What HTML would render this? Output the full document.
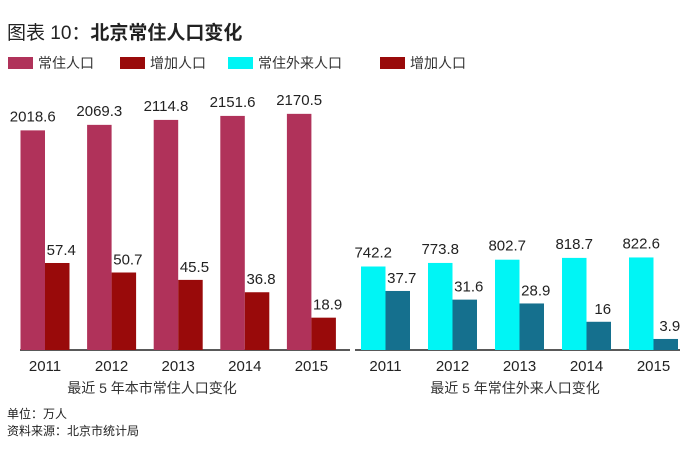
<!DOCTYPE html>
<html><head><meta charset="utf-8"><style>
body{margin:0;background:#fff;}
svg text{font-family:"Liberation Sans","Noto Sans CJK SC",sans-serif;}
</style></head><body>
<svg width="700" height="454" viewBox="0 0 700 454">
<text x="7" y="39" font-size="19" fill="#222">图表 10：<tspan font-weight="bold">北京常住人口变化</tspan></text>
<g id="legend"></g>
<g id="plot"></g>
<text x="152" y="393" font-size="14" text-anchor="middle" fill="#333">最近 5 年本市常住人口变化</text>
<text x="515" y="393" font-size="14" text-anchor="middle" fill="#333">最近 5 年常住外来人口变化</text>
<text x="7" y="418" font-size="12" fill="#222">单位：万人</text>
<text x="7" y="435" font-size="12" fill="#222">资料来源：北京市统计局</text>
</svg>
<script>
const years = ["2011","2012","2013","2014","2015"];
const residentPop = [2018.6, 2069.3, 2114.8, 2151.6, 2170.5];
const residentInc = [57.4, 50.7, 45.5, 36.8, 18.9];
const migrantPop = [742.2, 773.8, 802.7, 818.7, 822.6];
const migrantInc = [37.7, 31.6, 28.9, 16, 3.9];
const legendLabels = ["常住人口","增加人口","常住外来人口","增加人口"];
const legendColors = ["#b0325a","#990a0a","#00f5f5","#990a0a"];

const NS="http://www.w3.org/2000/svg";
function mk(tag,attrs,parent){const e=document.createElementNS(NS,tag);for(const k in attrs)e.setAttribute(k,attrs[k]);parent.appendChild(e);return e;}
const plot=document.getElementById('plot');
const legend=document.getElementById('legend');
const base=350;
const legX=[8,120,228,380];
legendLabels.forEach((l,i)=>{
  const r=mk('rect',{x:legX[i],y:57,width:25,height:12,fill:legendColors[i]},legend);
  
  
  const t=mk('text',{x:legX[i]+30,y:68,'font-size':14,fill:'#333'},legend);
  t.textContent=l;
  
  
});
function popH(v,k){return v*k;}
function incH(v){return 5.5+1.42*v;}
function panel(x0,pitch,pop,inc,k,c1,c2,name,lineX1,lineX2){
  const ln=mk('line',{x1:lineX1,x2:lineX2,y1:base,y2:base,stroke:'#222','stroke-width':1.5},plot);
  
  
  years.forEach((y,i)=>{
    const x=x0+i*pitch, w=24.5;
    const h1=popH(pop[i],k), h2=incH(inc[i]);
    const b1=mk('rect',{x:x,y:base-h1,width:w,height:h1,fill:c1},plot);
    
    
    const b2=mk('rect',{x:x+w,y:base-h2,width:w,height:h2,fill:c2},plot);
    
    
    const t1=mk('text',{x:x+w/2,y:base-h1-9,'font-size':15,'text-anchor':'middle',fill:'#222'},plot);
    t1.textContent=pop[i];
    
    
    const t2=mk('text',{x:x+w+w/2+4,y:base-h2-8,'font-size':15,'text-anchor':'middle',fill:'#222'},plot);
    t2.textContent=inc[i];
    
    
    const t3=mk('text',{x:x+w,y:371,'font-size':15,'text-anchor':'middle',fill:'#222'},plot);
    t3.textContent=y;
    
    
  });
}
panel(20.5,66.6,residentPop,residentInc,0.1088,'#b0325a','#990a0a','resident',20,350);
panel(361,67,migrantPop,migrantInc,0.1125,'#00f5f5','#15708e','migrant',355,680);
</script>
</body></html>
